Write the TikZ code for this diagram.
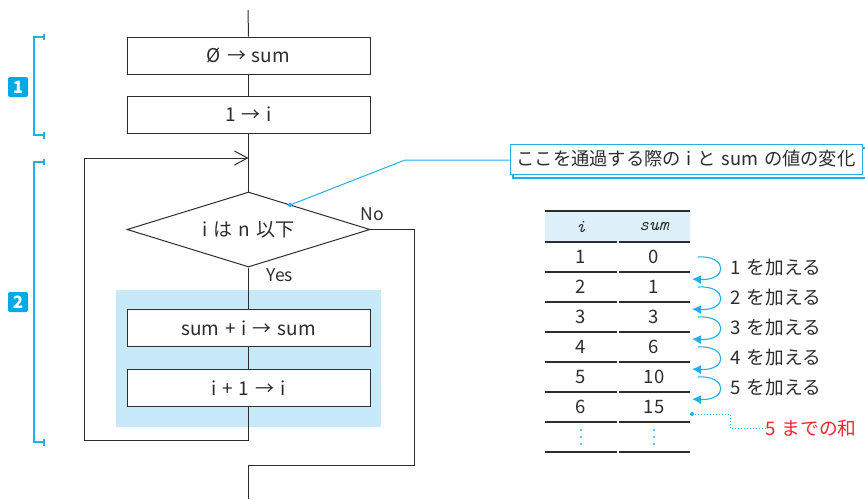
\documentclass[tikz,border=0pt]{standalone}
\usepackage{fontspec}
\setmainfont{Noto Sans CJK JP}[WordSpace=1.4]
\usetikzlibrary{shapes.geometric,arrows.meta}
\definecolor{ink}{RGB}{45,45,45}
\definecolor{cy}{RGB}{35,175,230}
\definecolor{lb}{RGB}{200,233,248}
\definecolor{hd}{RGB}{222,240,250}
\definecolor{rd}{RGB}{235,40,50}
\definecolor{badgec}{RGB}{0,170,230}
\begin{document}
\begin{tikzpicture}[x=1pt,y=-1pt,line width=1pt,
  proc/.style={draw=ink,fill=white,minimum width=243pt,minimum height=37pt,inner sep=0pt,font=\fontsize{19}{21}\selectfont,text=ink},
  dec/.style={draw=ink,fill=white,diamond,shape aspect=3.24,minimum width=243pt,minimum height=75pt,inner sep=0pt,font=\fontsize{19}{21}\selectfont,text=ink},
  lbl/.style={font=\fontsize{17.5}{20}\selectfont,text=ink,inner sep=0pt},
  cell/.style={font=\fontsize{18.5}{20}\selectfont,text=ink,inner sep=0pt},
  hcell/.style={font=\fontsize{18.5}{20}\selectfont\ttfamily\itshape,text=ink,inner sep=0pt},
  badge/.style={fill=badgec,text=white,minimum size=20pt,inner sep=0pt,rounded corners=2pt,font=\fontsize{17}{20}\selectfont\bfseries},
  brk/.style={draw=cy,line width=1.2pt},
  addarrow/.style={draw=cy,line width=1.1pt,-{Latex[length=9pt,width=9pt]}},
  addlbl/.style={font=\fontsize{18.7}{20}\selectfont,text=ink,inner sep=0pt,anchor=west},
  tline/.style={draw=ink,line width=1.2pt}]
\useasboundingbox (0,0) rectangle (865,499);

% loop body background
\fill[lb] (116,290) rectangle (381,427);

% flowchart nodes
\coordinate (top) at (248,10);
\node[proc] (b1) at (248.5,55.5) {Ø → sum};
\node[proc] (b2) at (248.5,114.5) {1 → i};
\node[dec] (d) at (248.5,229.5) {i は n 以下};
\node[proc] (b3) at (248.5,328) {sum + i → sum};
\node[proc] (b4) at (248.5,388) {i + 1 → i};
\node[lbl] (no) at (372,214) {No};
\node[lbl] (yes) at (280,275) {Yes};

% connectors
\draw[ink] (top) -- (b1.north);
\draw[ink] (b1.south) -- (b2.north);
\draw[ink] (b2.south) -- (d.north);
\draw[ink] (d.south) -- (b3.north);
\draw[ink] (b3.south) -- (b4.north);
\coordinate (lb1) at (248.5,440);
\coordinate (lb2) at (84,440);
\coordinate (lb3) at (84,158);
\coordinate (lb4) at (248.5,158);
\draw[ink,-{Straight Barb[length=13pt,width=14pt]}] (b4.south) -- (lb1) -- (lb2) -- (lb3) -- (lb4);
\coordinate (n1) at (414,229.5);
\coordinate (n2) at (414,465);
\coordinate (n3) at (248.5,465);
\coordinate (bot) at (248.5,499);
\draw[ink] (d.east) -- (n1) -- (n2) -- (n3) -- (bot);

% brackets and badges
\draw[brk] (44,37) -- (34,37) -- (34,135) -- (44,135);
\draw[brk] (44,34) -- (44,40);
\draw[brk] (44,132) -- (44,139);
\node[badge] (k1) at (18,87) {1};
\draw[brk] (44,162) -- (34,162) -- (34,442) -- (44,442);
\draw[brk] (44,159) -- (44,165);
\draw[brk] (44,439) -- (44,446);
\node[badge] (k2) at (18,302) {2};

% callout
\draw[cy,line width=1.2pt,fill=white] (513,148) rectangle (866,178);
\node[draw=cy,line width=1pt,fill=white,minimum width=352pt,minimum height=30pt,inner sep=0pt,font=\fontsize{18.3}{20}\selectfont,text=ink] (call) at (686,159) {ここを通過する際の i と sum の値の変化};
\coordinate (cbend) at (405,160);
\coordinate (cend) at (290,205);
\draw[cy,line width=1pt] (call.west |- cbend) -- (cbend) -- (cend);
\fill[cy] (cend) circle (2pt);

% table
\fill[hd] (545,211) rectangle (690,242);
\draw[tline,line width=1.6pt] (545,211) -- (690,211);
\foreach \y in {242,272,302,332,362,392,422,452}{
  \draw[tline] (545,\y) -- (616.5,\y);
  \draw[tline] (618.5,\y) -- (690,\y);
}
\node[hcell] (hi) at (581,227) {i};
\node[hcell] (hs) at (654,227) {sum};
\foreach \r/\a/\b in {1/1/0,2/2/1,3/3/3,4/4/6,5/5/10,6/6/15}{
  \node[cell] (ci\r) at (581,227+30*\r) {\a};
  \node[cell] (cs\r) at (654,227+30*\r) {\b};
}
\foreach \x in {581,654}{
  \foreach \y in {430,437,444} \fill[cy] (\x,\y) circle (1.2pt);
}

% add arrows
\foreach \k in {1,...,5}{
  \coordinate (as\k) at (698,{257+30*(\k-1)});
  \coordinate (ae\k) at (692,{279+30*(\k-1)});
  \draw[addarrow] (as\k) .. controls (728,{255+30*(\k-1)}) and (728,{281+30*(\k-1)}) .. (ae\k);
  \node[addlbl] (al\k) at (730,{268+30*(\k-1)}) {\k\ を加える};
}

% sum up to 5
\coordinate (sd) at (692,414);
\coordinate (sd1) at (730,414);
\coordinate (sd2) at (730,428.5);
\node[font=\fontsize{18.7}{20}\selectfont,text=rd,inner sep=0pt,anchor=west] (sum5) at (765,428.5) {5 までの和};
\fill[cy] (sd) circle (2pt);
\draw[cy,line width=1pt,dotted] (sd) -- (sd1) -- (sd2) -- (sum5.west);
\end{tikzpicture}
\end{document}
